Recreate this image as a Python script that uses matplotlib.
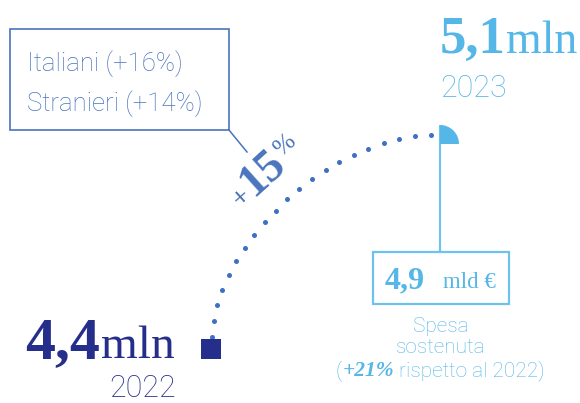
import numpy as np
import matplotlib
matplotlib.use("Agg")
import matplotlib.pyplot as plt
from matplotlib.patches import Rectangle, Wedge

# ---- data -------------------------------------------------------------
years = [2022, 2023]
visitors_mln = [4.4, 5.1]
visitor_labels = ["4,4", "5,1"]
unit_label = "mln"
growth_label = "+15"
breakdown = ["Italiani (+16%)", "Stranieri (+14%)"]
spend_value = "4,9"
spend_unit = "mld €"
spend_caption = ["Spesa", "sostenuta"]
spend_growth = "+21%"
spend_note = "rispetto al 2022)"

# ---- style ------------------------------------------------------------
NAVY = "#252f8b"
MID = "#4a74bd"
DOT = "#3f70c2"
LIGHT = "#55b6e8"
LIGHT2 = "#6dc2ee"
SANS = dict(family="Roboto", weight="light")
SERIF_B = dict(family="Liberation Serif", weight="bold")
SERIF = dict(family="Liberation Serif", weight="normal")

W, H = 580, 403
fig = plt.figure(figsize=(W / 100, H / 100), dpi=100)

# value axes: year on x, visitors on y, scaled so the two years land in place
ax = fig.add_axes([0, 0, 1, 1])
pos_px = [(210.5, 348.5), (440.0, 135.0)]  # layout spots (pixels from top-left)
a = (pos_px[1][0] - pos_px[0][0]) / (years[1] - years[0])
ax.set_xlim(years[0] - pos_px[0][0] / a, years[0] + (W - pos_px[0][0]) / a)
yb0, yb1 = H - pos_px[0][1], H - pos_px[1][1]
b = (yb1 - yb0) / (visitors_mln[1] - visitors_mln[0])
ax.set_ylim(visitors_mln[0] - yb0 / b, visitors_mln[0] + (H - yb0) / b)
ax.axis("off")
ax.set_zorder(2)

# pixel overlay for decorations and text
pax = fig.add_axes([0, 0, 1, 1])
pax.set_xlim(0, W)
pax.set_ylim(H, 0)
pax.axis("off")
pax.set_zorder(1)

# 2022 marker
ax.scatter([years[0]], [visitors_mln[0]], marker="s", s=225, color=NAVY,
           linewidths=0, zorder=5)


def to_px(x, y):
    dx, dy = ax.transData.transform((x, y))
    return np.array([dx, H - dy])


p0 = to_px(years[0], visitors_mln[0])
p1 = to_px(years[1], visitors_mln[1])

# dotted growth curve (cubic Bezier)
s0 = p0 + np.array([1.5, -11.5])
s3 = p1 + np.array([-9.0, 0.0])
c1 = s0 + np.array([3.0, -87.0])
c2 = s3 + np.array([-111.0, 5.0])
t = np.linspace(0, 1, 3000)[:, None]
curve = ((1 - t) ** 3 * s0 + 3 * (1 - t) ** 2 * t * c1
         + 3 * (1 - t) * t ** 2 * c2 + t ** 3 * s3)
seg = np.r_[0, np.cumsum(np.hypot(*np.diff(curve, axis=0).T))]
targets = np.linspace(0, seg[-1], 21)
dots = np.array([np.interp(targets, seg, curve[:, k]) for k in range(2)]).T
pax.scatter(dots[:, 0], dots[:, 1], s=13, color=DOT, linewidths=0, zorder=3)

# 2023 flag and pole
fx, fy = p1[0], p1[1] + 9
pax.add_patch(Wedge((fx, fy), 19, 270, 360, color=LIGHT, linewidth=0, zorder=4))
pax.plot([fx, fx], [fy - 19, 252], color=LIGHT2, lw=1.5, zorder=3,
         solid_capstyle="butt")

# spending box
pax.add_patch(Rectangle((373, 252), 136, 52, fill=False, edgecolor=LIGHT2, lw=1.6))

# breakdown box with leader line
pax.add_patch(Rectangle((10, 29), 219, 101, fill=False, edgecolor=MID, lw=1.2))
pax.plot([229, 247], [130, 152], color=MID, lw=1.1)

renderer = fig.canvas.get_renderer()


def width_of(s, size, props):
    tt = pax.text(0, 0, s, fontsize=size, **props)
    w = tt.get_window_extent(renderer).width
    tt.remove()
    return w


def run(parts, x, y, ha="left"):
    """Draw several text pieces side by side on one baseline."""
    ws = [width_of(s, sz, pr) + gap for s, sz, pr, col, gap in parts]
    total = sum(ws)
    if ha == "center":
        x -= total / 2
    for (s, sz, pr, col, gap), w in zip(parts, ws):
        pax.text(x, y, s, fontsize=sz, color=col, va="baseline", ha="left", **pr)
        x += w


# breakdown text
pax.text(27, 71, breakdown[0], fontsize=18.5, color=MID, va="baseline", **SANS)
pax.text(27, 111, breakdown[1], fontsize=18.5, color=MID, va="baseline", **SANS)

# 2022 value
run([(visitor_labels[0], 43, SERIF_B, NAVY, 1), (unit_label, 34, SERIF, NAVY, 0)],
    25, 358)
pax.text(109, 397, str(years[0]), fontsize=22, color=NAVY, va="baseline", **SANS)

# 2023 value
run([(visitor_labels[1], 38, SERIF_B, LIGHT, 0), (unit_label, 33, SERIF, LIGHT, 0)],
    440, 53)
pax.text(440, 97, str(years[1]), fontsize=22, color=LIGHT, va="baseline", **SANS)

# growth label along the curve
ang = 42.0
u = np.array([np.cos(np.radians(ang)), -np.sin(np.radians(ang))])
nrm = np.array([-np.sin(np.radians(ang)), -np.cos(np.radians(ang))])
base = np.array([241.0, 208.0])
w_plus = width_of("+", 20, SERIF_B)
w_num = width_of(growth_label[1:], 33, SERIF_B)
pax.text(*base, "+", fontsize=20, color=MID, rotation=ang, rotation_mode="anchor",
         va="baseline", ha="left", **SERIF_B)
q = base + u * (w_plus + 1)
pax.text(*q, growth_label[1:], fontsize=33, color=MID, rotation=ang,
         rotation_mode="anchor", va="baseline", ha="left", **SERIF_B)
q = q + u * (w_num + 1) + nrm * 11
pax.text(*q, "%", fontsize=18, color=MID, rotation=ang, rotation_mode="anchor",
         va="baseline", ha="left", **SERIF)

# spending figures
pax.text(385, 288, spend_value, fontsize=23, color=LIGHT, va="baseline", **SERIF_B)
pax.text(443, 288, spend_unit, fontsize=16.5, color=LIGHT, va="baseline", **SERIF)
pax.text(441, 332, spend_caption[0], fontsize=15, color=LIGHT, va="baseline",
         ha="center", **SANS)
pax.text(441, 353, spend_caption[1], fontsize=15, color=LIGHT, va="baseline",
         ha="center", **SANS)
run([("(", 15, SANS, LIGHT, 1),
     (spend_growth, 15.5, dict(family="Liberation Serif", weight="bold", style="italic"),
      LIGHT, 4),
     (spend_note, 15, SANS, LIGHT, 0)], 440, 376, ha="center")

fig.savefig("out.png", dpi=100)
